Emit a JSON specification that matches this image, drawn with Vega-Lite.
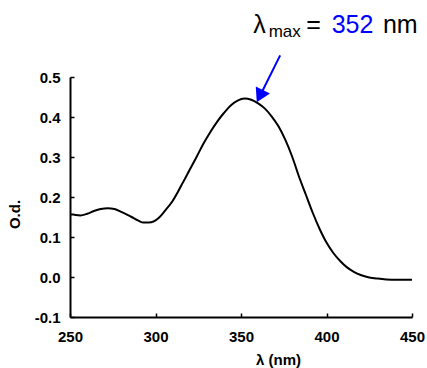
{
  "$schema": "https://vega.github.io/schema/vega-lite/v6.json",
  "width": 342,
  "height": 240,
  "autosize": "none",
  "padding": {"left": 70, "top": 77, "right": 15, "bottom": 51},
  "background": "white",
  "config": {"view": {"stroke": null}, "font": "Liberation Sans"},
  "resolve": {"axis": {"x": "independent", "y": "independent"}},
  "layer": [
    {
      "data": {"values": [
        {"wl": 250, "od": 0.157}, {"wl": 252, "od": 0.156}, {"wl": 256, "od": 0.154},
        {"wl": 260, "od": 0.158}, {"wl": 264, "od": 0.165}, {"wl": 268, "od": 0.170},
        {"wl": 272, "od": 0.172}, {"wl": 276, "od": 0.170}, {"wl": 280, "od": 0.163},
        {"wl": 286, "od": 0.150}, {"wl": 290, "od": 0.141}, {"wl": 293, "od": 0.136},
        {"wl": 296, "od": 0.136}, {"wl": 299, "od": 0.139}, {"wl": 302, "od": 0.148},
        {"wl": 306, "od": 0.168}, {"wl": 310, "od": 0.190}, {"wl": 313, "od": 0.212},
        {"wl": 316, "od": 0.236}, {"wl": 320, "od": 0.268}, {"wl": 324, "od": 0.300},
        {"wl": 328, "od": 0.333}, {"wl": 332, "od": 0.362}, {"wl": 336, "od": 0.388},
        {"wl": 340, "od": 0.410}, {"wl": 344, "od": 0.429}, {"wl": 348, "od": 0.441},
        {"wl": 352, "od": 0.446}, {"wl": 356, "od": 0.443}, {"wl": 360, "od": 0.434},
        {"wl": 364, "od": 0.421}, {"wl": 368, "od": 0.401}, {"wl": 372, "od": 0.376},
        {"wl": 376, "od": 0.342}, {"wl": 380, "od": 0.300}, {"wl": 384, "od": 0.250},
        {"wl": 388, "od": 0.205}, {"wl": 392, "od": 0.160}, {"wl": 396, "od": 0.120},
        {"wl": 400, "od": 0.086}, {"wl": 404, "od": 0.060}, {"wl": 408, "od": 0.040},
        {"wl": 412, "od": 0.024}, {"wl": 416, "od": 0.013}, {"wl": 420, "od": 0.005},
        {"wl": 425, "od": -0.001}, {"wl": 430, "od": -0.004}, {"wl": 435, "od": -0.006},
        {"wl": 440, "od": -0.007}, {"wl": 450, "od": -0.007}
      ]},
      "mark": {"type": "line", "color": "black", "strokeWidth": 2, "interpolate": "monotone"},
      "encoding": {
        "x": {
          "field": "wl", "type": "quantitative",
          "scale": {"domain": [250, 450], "nice": false, "zero": false},
          "axis": {
            "values": [250, 300, 350, 400, 450],
            "title": "λ (nm)", "grid": false,
            "domainColor": "black", "domainWidth": 2,
            "ticks": true, "tickColor": "black", "tickWidth": 1.5, "tickSize": -4,
            "labelFont": "Liberation Sans", "labelFontWeight": "bold", "labelFontSize": 15, "labelColor": "black",
            "labelPadding": 16, "labelFlush": false, "labelOverlap": false,
            "titleFont": "Liberation Sans", "titleFontWeight": "bold", "titleFontSize": 15, "titleColor": "black",
            "titleX": 208, "titleY": 47, "titleBaseline": "alphabetic", "titleAlign": "center"
          }
        },
        "y": {
          "field": "od", "type": "quantitative",
          "scale": {"domain": [-0.1, 0.5], "nice": false, "zero": false},
          "axis": {
            "values": [-0.1, 0, 0.1, 0.2, 0.3, 0.4, 0.5], "format": ".1f",
            "labelExpr": "replace(datum.label, '−', '-')",
            "title": "O.d.", "grid": false,
            "domainColor": "black", "domainWidth": 2,
            "ticks": true, "tickColor": "black", "tickWidth": 1.5, "tickSize": -4,
            "labelFont": "Liberation Sans", "labelFontWeight": "bold", "labelFontSize": 15, "labelColor": "black",
            "labelPadding": 14, "labelFlush": false, "labelOverlap": false,
            "titleFont": "Liberation Sans", "titleFontWeight": "bold", "titleFontSize": 15, "titleColor": "black",
            "titleX": -51, "titleY": 137, "titleBaseline": "alphabetic", "titleAngle": -90, "titleAlign": "center"
          }
        }
      }
    },
    {
      "data": {"values": [{"x1": 372.9, "y1": 0.554, "x2": 361.0, "y2": 0.452}]},
      "mark": {"type": "rule", "color": "#0000ff", "strokeWidth": 2},
      "encoding": {
        "x": {"field": "x1", "type": "quantitative", "axis": null},
        "y": {"field": "y1", "type": "quantitative", "axis": null},
        "x2": {"field": "x2"},
        "y2": {"field": "y2"}
      }
    },
    {
      "data": {"values": [{"x": 361.0, "y": 0.452}]},
      "mark": {"type": "point", "shape": "triangle-down", "filled": true, "color": "#0000ff", "size": 250, "angle": 26.5, "opacity": 1},
      "encoding": {
        "x": {"field": "x", "type": "quantitative", "axis": null},
        "y": {"field": "y", "type": "quantitative", "axis": null}
      }
    },
    {
      "data": {"values": [{"t": "λ", "x": 357.1, "y": 0.611}]},
      "mark": {"type": "text", "align": "left", "baseline": "alphabetic", "fontSize": 25, "font": "Liberation Sans", "color": "black"},
      "encoding": {
        "x": {"field": "x", "type": "quantitative", "axis": null},
        "y": {"field": "y", "type": "quantitative", "axis": null},
        "text": {"field": "t"}
      }
    },
    {
      "data": {"values": [{"t": "max", "x": 366.2, "y": 0.6}]},
      "mark": {"type": "text", "align": "left", "baseline": "alphabetic", "fontSize": 17, "font": "Liberation Sans", "color": "black"},
      "encoding": {
        "x": {"field": "x", "type": "quantitative", "axis": null},
        "y": {"field": "y", "type": "quantitative", "axis": null},
        "text": {"field": "t"}
      }
    },
    {
      "data": {"values": [{"t": "=", "x": 388.1, "y": 0.611}, {"t": "nm", "x": 433.0, "y": 0.611}]},
      "mark": {"type": "text", "align": "left", "baseline": "alphabetic", "fontSize": 25, "font": "Liberation Sans", "color": "black"},
      "encoding": {
        "x": {"field": "x", "type": "quantitative", "axis": null},
        "y": {"field": "y", "type": "quantitative", "axis": null},
        "text": {"field": "t"}
      }
    },
    {
      "data": {"values": [{"t": "352", "x": 403.0, "y": 0.611}]},
      "mark": {"type": "text", "align": "left", "baseline": "alphabetic", "fontSize": 25, "font": "Liberation Sans", "color": "#0000ff"},
      "encoding": {
        "x": {"field": "x", "type": "quantitative", "axis": null},
        "y": {"field": "y", "type": "quantitative", "axis": null},
        "text": {"field": "t"}
      }
    }
  ]
}
